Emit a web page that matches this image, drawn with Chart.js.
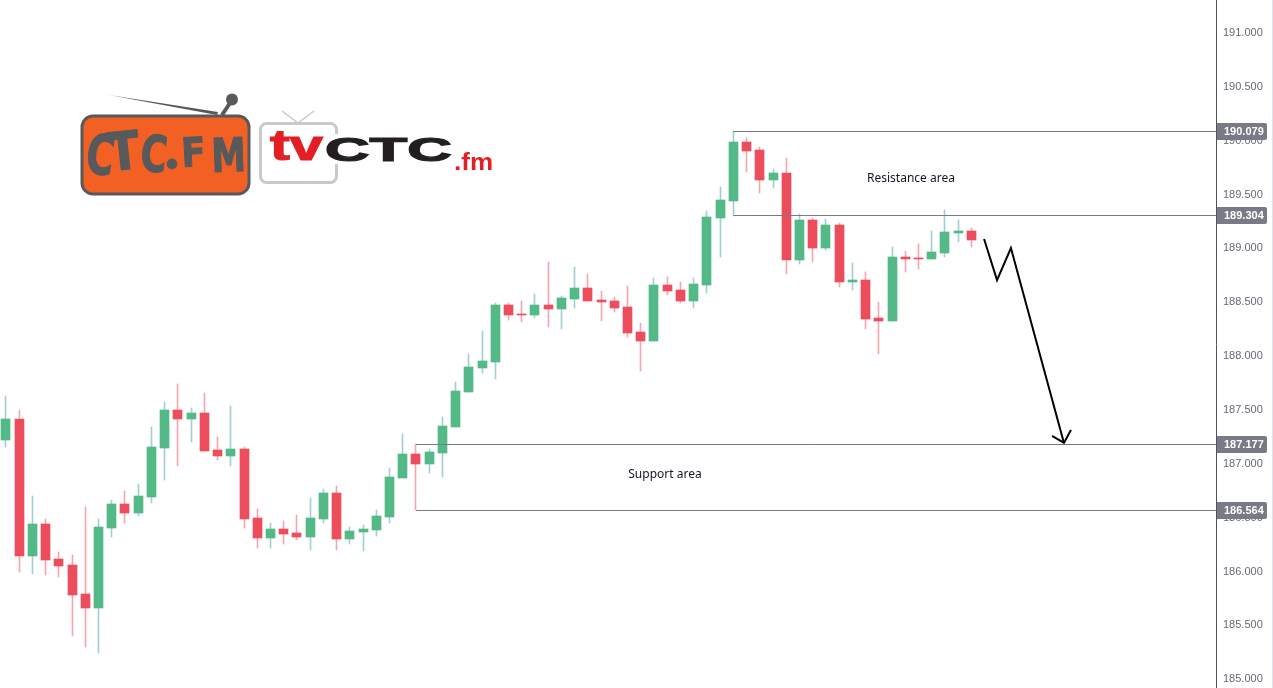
<!DOCTYPE html>
<html>
<head>
<meta charset="utf-8">
<title>Price chart</title>
<script src="https://cdn.jsdelivr.net/npm/chart.js@4"></script>
<style>
  html, body { margin: 0; padding: 0; background: #fff; overflow: hidden; }
  #wrap { position: relative; width: 1273px; height: 688px; }
  #price-chart { display: block; }
  #logo { position: absolute; left: 0; top: 0; }
</style>
</head>
<body>
<div id="wrap">
  <canvas id="price-chart" width="1273" height="688"></canvas>
  <svg id="logo" width="520" height="210" viewBox="0 0 520 210">
    <!-- radio logo -->
    <path d="M109 95 L218 112 L217 115 Z" fill="#58595b"/>
    <line x1="222" y1="115" x2="230" y2="103" stroke="#58595b" stroke-width="4"/>
    <circle cx="232" cy="99.5" r="6" fill="#58595b"/>
    <rect x="82" y="116" width="167" height="78" rx="11" fill="#f26024" stroke="#58595b" stroke-width="3"/>
    <g font-family="'DejaVu Sans'" font-weight="bold" fill="#58595b" stroke="#58595b" stroke-width="0.8">
      <text transform="translate(84,172) rotate(8) scale(1,1.45)" font-size="38">C</text>
      <text transform="translate(110,171) rotate(-6) scale(1.35,1.55)" font-size="34">T</text>
      <text transform="translate(139,170) rotate(6) scale(1,1.4)" font-size="36">C</text>
      <circle cx="172" cy="164" r="5"/>
      <text transform="translate(182,167) rotate(-3) scale(1.15,1.3)" font-size="31">F</text>
      <text transform="translate(212,172) rotate(-2) scale(1.15,1.55)" font-size="30">M</text>
    </g>
    <!-- tv logo -->
    <line x1="282" y1="111" x2="298" y2="123" stroke="#c9c9c9" stroke-width="1.5"/>
    <line x1="314" y1="111" x2="298" y2="123" stroke="#c9c9c9" stroke-width="1.5"/>
    <rect x="260.5" y="123.5" width="76" height="59" rx="6" fill="#fff" stroke="#c9c9c9" stroke-width="3"/>
    <rect x="322" y="134" width="20" height="30" fill="#fff"/>
    <text x="270" y="160" font-family="'Liberation Sans'" font-weight="bold" font-size="43" fill="#e31e24" stroke="#e31e24" stroke-width="1.2" textLength="53" lengthAdjust="spacingAndGlyphs">tv</text>
    <text x="325" y="161" font-family="'Liberation Sans'" font-weight="bold" font-size="33" fill="#231f20" stroke="#231f20" stroke-width="1.2" textLength="127" lengthAdjust="spacingAndGlyphs">CTC</text>
    <text x="454" y="170" font-family="'Liberation Sans'" font-weight="bold" font-size="23" fill="#e31e24" textLength="39" lengthAdjust="spacingAndGlyphs">.fm</text>
  </svg>
</div>
<script>
// Candles
const opens = [187.212,187.407,186.135,186.432,186.107,186.051,185.782,185.652,186.395,186.617,186.534,186.682,187.137,187.490,187.407,187.462,187.119,187.063,187.128,186.488,186.302,186.385,186.348,186.311,186.478,186.720,186.293,186.358,186.376,186.497,186.859,187.082,186.989,187.091,187.332,187.657,187.880,187.936,188.465,188.382,188.372,188.465,188.428,188.521,188.623,188.512,188.502,188.447,188.214,188.131,188.651,188.604,188.502,188.651,189.273,189.431,189.979,189.904,189.626,189.691,188.883,189.254,188.994,189.208,188.679,188.697,188.344,188.317,188.911,188.902,188.892,188.948,189.134,189.152];
const highs = [187.620,187.490,186.692,186.478,186.172,186.144,186.590,186.478,186.655,186.738,186.803,187.332,187.565,187.732,187.509,187.648,187.240,187.527,187.147,186.571,186.441,186.460,186.515,186.673,186.757,186.785,186.404,186.422,186.562,186.952,187.267,187.175,187.128,187.425,187.750,188.010,188.224,188.484,188.484,188.502,188.567,188.864,188.549,188.818,188.753,188.595,188.540,188.642,188.298,188.716,188.725,188.679,188.716,189.338,189.561,190.081,190.016,189.932,189.728,189.830,189.310,189.273,189.264,189.227,188.855,188.772,188.493,189.004,188.967,189.032,189.152,189.347,189.254,189.180];
const lows = [187.147,185.986,185.968,185.958,185.940,185.392,185.290,185.234,186.311,186.441,186.506,186.627,186.840,186.970,187.193,187.110,187.026,186.970,186.395,186.209,186.209,186.246,186.283,186.190,186.441,186.190,186.246,186.181,186.320,186.441,186.859,186.562,186.905,186.868,187.332,187.657,187.834,187.778,188.326,188.307,188.344,188.261,188.242,188.437,188.502,188.317,188.400,188.168,187.852,188.131,188.558,188.484,188.437,188.577,188.911,189.292,189.700,189.505,189.551,188.753,188.846,188.864,188.976,188.632,188.604,188.242,188.010,188.317,188.772,188.799,188.892,188.911,189.050,189.004];
const closes = [187.407,186.135,186.432,186.098,186.042,185.773,185.652,186.404,186.617,186.534,186.692,187.147,187.490,187.407,187.462,187.110,187.063,187.128,186.478,186.302,186.385,186.339,186.311,186.488,186.720,186.293,186.367,186.385,186.506,186.868,187.082,186.989,187.100,187.342,187.667,187.889,187.945,188.465,188.372,188.372,188.465,188.428,188.530,188.623,188.502,188.493,188.437,188.205,188.131,188.651,188.595,188.502,188.660,189.282,189.440,189.979,189.895,189.626,189.691,188.883,189.254,188.994,189.208,188.679,188.697,188.335,188.317,188.911,188.892,188.892,188.957,189.143,189.152,189.069];

const priceTicks = [185, 185.5, 186, 186.5, 187, 187.5, 188, 188.5, 189, 189.5, 190, 190.5, 191];

// Horizontal levels: price and the candle they start from
const levelPrices = [190.079, 189.304, 187.177, 186.564];
const levelStarts = [55, 55, 31, 31];

// Hand drawn arrow, in candle index and price
const arrowX = [73.96, 74.94, 75.99, 80];
const arrowY = [189.078, 188.697, 188.994, 187.184];
const arrowHeadX = [79.1, 80, 80.53];
const arrowHeadY = [187.249, 187.184, 187.305];

const notes = [
  { text: "Resistance area", x: 68.43, y: 189.636 },
  { text: "Support area", x: 49.83, y: 186.891 },
];

const UP = "#53b987";
const DOWN = "#eb4d5c";
const UP_WICK = "#a5cfd3";
const DOWN_WICK = "#f7a6b0";
const LEVEL = "#787b86";

const isUp = closes.map((c, i) => c >= opens[i]);

// Snap bars and level lines to whole pixels so they stay crisp
const snapPlugin = {
  id: "snap",
  afterDatasetsUpdate(chart) {
    chart.data.datasets.forEach((ds, d) => {
      const meta = chart.getDatasetMeta(d);
      meta.data.forEach((el) => {
        if (ds.type === "bar") {
          el.x = Math.floor(el.x) + 0.5;
          el.y = Math.round(el.y);
          el.base = Math.round(el.base);
          if (Math.abs(el.y - el.base) < 1) el.base = el.y + 1;
          el.height = el.base - el.y;
        } else if (ds.snapY) {
          el.y = Math.round(el.y) + 0.5;
        }
      });
    });
  },
  // tick labels sit one pixel lower in the reference
  beforeDraw(chart) {
    chart.scales.y.getLabelItems().forEach((item) => {
      if (!item.moved) {
        item.options.translation[1] += 1;
        item.moved = true;
      }
    });
  },
};

// Price tags on the axis and the two area notes
const labelsPlugin = {
  id: "labels",
  afterDraw(chart) {
    const { ctx, scales } = chart;
    ctx.save();
    ctx.fillStyle = "#e0e3eb";
    ctx.fillRect(1272, 0, 1, 688);
    levelPrices.forEach((p) => {
      const y = Math.round(scales.y.getPixelForValue(p)) + 0.5;
      ctx.fillStyle = LEVEL;
      ctx.beginPath();
      ctx.roundRect(1217, y - 8.5, 50, 17, [0, 2, 2, 0]);
      ctx.fill();
      ctx.fillStyle = "#fff";
      ctx.font = "bold 11px 'Liberation Sans'";
      ctx.textAlign = "left";
      ctx.textBaseline = "middle";
      ctx.fillText(p.toFixed(3), 1224, y + 0.5);
    });
    ctx.fillStyle = "#131722";
    ctx.font = "12px 'Noto Sans'";
    ctx.textAlign = "center";
    ctx.textBaseline = "middle";
    notes.forEach((n) => {
      ctx.fillText(n.text, scales.x.getPixelForValue(n.x), scales.y.getPixelForValue(n.y));
    });
    ctx.restore();
  },
};

const priceCtx = document.getElementById("price-chart").getContext("2d");
new Chart(priceCtx, {
  data: {
    datasets: [
      ...levelPrices.map((p, i) => ({
        type: "line",
        data: [{ x: levelStarts[i], y: p }, { x: 91.497, y: p }],
        borderColor: LEVEL,
        borderWidth: 1,
        pointRadius: 0,
        snapY: true,
        order: 0,
      })),
      {
        type: "line",
        data: arrowX.map((x, i) => ({ x, y: arrowY[i] })),
        borderColor: "#000",
        borderWidth: 2,
        pointRadius: 0,
        order: 0,
      },
      {
        type: "line",
        data: arrowHeadX.map((x, i) => ({ x, y: arrowHeadY[i] })),
        borderColor: "#000",
        borderWidth: 2,
        pointRadius: 0,
        order: 0,
      },
      {
        type: "bar",
        label: "Body",
        data: opens.map((o, i) => ({ x: i, y: [o, closes[i]] })),
        backgroundColor: isUp.map((u) => (u ? UP : DOWN)),
        barThickness: 9,
        grouped: false,
        order: 1,
      },
      {
        type: "bar",
        label: "Wick",
        data: lows.map((l, i) => ({ x: i, y: [l, highs[i]] })),
        backgroundColor: isUp.map((u) => (u ? UP_WICK : DOWN_WICK)),
        barThickness: 1,
        grouped: false,
        order: 2,
      },
    ],
  },
  options: {
    responsive: false,
    animation: false,
    layout: { padding: 0 },
    plugins: {
      legend: { display: false },
      title: { display: false },
      tooltip: { enabled: false },
    },
    scales: {
      x: {
        type: "linear",
        display: false,
        offset: false,
        min: -0.4499,
        max: 91.497,
      },
      y: {
        position: "right",
        min: 184.909,
        max: 191.2971,
        afterFit(scale) {
          scale.width = 57;
          scale.paddingTop = 0;
          scale.paddingBottom = 0;
        },
        afterBuildTicks(scale) {
          scale.ticks = priceTicks.map((v) => ({ value: v }));
        },
        grid: { display: false, drawTicks: false },
        border: { display: true, color: "#50535e", width: 1 },
        ticks: {
          color: "#666a75",
          padding: 7,
          font: { family: "'Liberation Sans'", size: 11 },
          autoSkip: false,
          callback: (v) => Number(v).toFixed(3),
        },
      },
    },
  },
  plugins: [snapPlugin, labelsPlugin],
});
</script>
</body>
</html>
